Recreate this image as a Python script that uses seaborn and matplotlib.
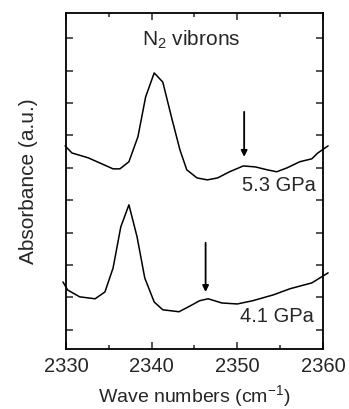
import numpy as np
import pandas as pd
import matplotlib
matplotlib.use("Agg")
import matplotlib.pyplot as plt
from matplotlib.ticker import MultipleLocator, NullFormatter
import seaborn as sns

# spectrum at 5.3 GPa (offset upwards)
wn_high = [2329.9, 2330.7, 2332.6, 2335.5, 2336.3, 2337.35, 2338.4, 2339.3, 2340.3,
           2341.3, 2342.4, 2343.3, 2344.1, 2345.3, 2346.5, 2347.7, 2349.1, 2350.7,
           2352.1, 2353.5, 2354.6, 2355.8, 2357.3, 2358.7, 2359.4, 2360.6]
abs_high = [5.68, 5.46, 5.31, 4.97, 4.97, 5.19, 5.96, 7.19, 7.93,
            7.65, 6.48, 5.56, 4.94, 4.69, 4.63, 4.69, 4.88, 5.06,
            5.03, 4.94, 4.88, 5.00, 5.19, 5.28, 5.46, 5.68]

# spectrum at 4.1 GPa
wn_low = [2329.65, 2330.2, 2331.6, 2333.4, 2334.55, 2335.5, 2336.4, 2337.35, 2338.3,
          2339.2, 2340.3, 2341.3, 2343.2, 2344.5, 2345.6, 2346.6, 2348.2, 2350.0,
          2351.8, 2354.2, 2356.15, 2358.7, 2360.6]
abs_low = [1.48, 1.23, 1.02, 0.96, 1.17, 1.91, 3.18, 3.86, 2.87,
           1.60, 0.86, 0.62, 0.56, 0.74, 0.90, 0.96, 0.83, 0.80,
           0.90, 1.08, 1.27, 1.45, 1.76]

pressure_labels = ["5.3 GPa", "4.1 GPa"]
arrow_x = [2350.8, 2346.3]
arrow_top = [6.73, 2.69]
arrow_tip = [5.34, 1.17]

df = pd.concat([
    pd.DataFrame({"wn": wn_high, "a": abs_high, "p": pressure_labels[0]}),
    pd.DataFrame({"wn": wn_low, "a": abs_low, "p": pressure_labels[1]}),
])

sns.set_style("ticks")
plt.rcParams["font.family"] = ["Liberation Sans", "DejaVu Sans"]
plt.rcParams["mathtext.fontset"] = "custom"
plt.rcParams["mathtext.rm"] = "Liberation Sans"

fig = plt.figure(figsize=(3.49, 4.09), dpi=100)
ax = fig.add_axes([0.189, 0.1467, 0.7364, 0.8215])

sns.lineplot(data=df, x="wn", y="a", units="p", estimator=None, sort=False,
             color="black", linewidth=1.1, ax=ax, clip_on=False)

for x, y0, y1 in zip(arrow_x, arrow_top, arrow_tip):
    ax.annotate("", xy=(x, y1), xytext=(x, y0),
                arrowprops=dict(arrowstyle="-|>", color="black", lw=1.3,
                                mutation_scale=9, shrinkA=0, shrinkB=0))

ax.text(2359.2, 4.45, pressure_labels[0], ha="right", va="center", fontsize=14.5)
ax.text(2358.9, 0.40, pressure_labels[1], ha="right", va="center", fontsize=14.5)
ax.text(2344.6, 8.95, r"N$_\mathrm{2}$ vibrons", ha="center", va="center", fontsize=15)

ax.set_xlim(2330, 2360)
ax.set_ylim(-0.59, 9.78)
ax.xaxis.set_major_locator(MultipleLocator(10))
ax.xaxis.set_minor_locator(MultipleLocator(5))
ax.yaxis.set_major_locator(MultipleLocator(1))
ax.yaxis.set_major_formatter(NullFormatter())
ax.tick_params(which="both", direction="in", top=True, right=True, width=1.1)
ax.tick_params(which="major", length=5, labelsize=14.5, pad=6)
ax.tick_params(which="minor", length=3)
for s in ax.spines.values():
    s.set_linewidth(1.3)
    s.set_color("black")

ax.set_xlabel(r"Wave numbers (cm$^\mathrm{-1}$)", fontsize=14, labelpad=5)
ax.set_ylabel("Absorbance (a.u.)", fontsize=15, labelpad=14)

fig.savefig("out.png", dpi=100)
